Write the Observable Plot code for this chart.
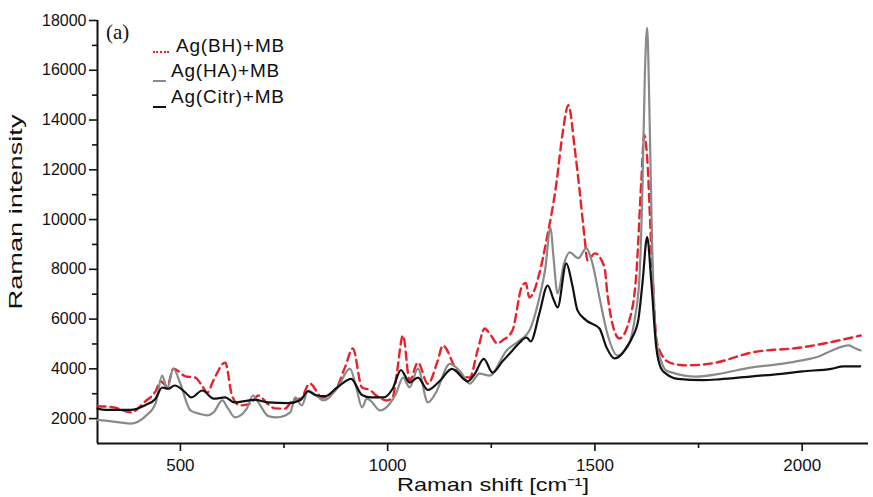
<!DOCTYPE html>
<html>
<head>
<meta charset="utf-8">
<script src="https://cdn.jsdelivr.net/npm/d3@7"></script>
<script src="https://cdn.jsdelivr.net/npm/@observablehq/plot@0.6"></script>
<style>
  body { margin: 0; background: #fff; }
  #wrap { position: relative; width: 873px; height: 497px; font-family: "Liberation Sans", Arial, sans-serif; }
  .leg { position: absolute; font-size: 19px; color: #111; letter-spacing: 0.8px; white-space: nowrap; }
  .sw { position: absolute; }
  #tag { position: absolute; left: 106px; top: 20px; font-family: "Liberation Serif", "Times New Roman", serif; font-size: 21px; color: #111; }
</style>
</head>
<body>
<div id="wrap"></div>
<script>
// ---- data ----
const seriesNames = ["Ag(BH)+MB", "Ag(HA)+MB", "Ag(Citr)+MB"];

const bhShift = [300,340,380,416,440,452,468,483,512,536,553,565,580,608,625,644,668,688,710,728,752,772,790,812,842,873,897,916,938,957,975,998,1012,1022,1037,1053,1073,1097,1121,1133,1167,1198,1217,1234,1246,1265,1277,1301,1323,1333,1342,1366,1383,1407,1422,1436,1451,1463,1475,1482,1500,1523,1530,1542,1559,1583,1600,1612,1619,1626,1636,1650,1679,1720,1783,1879,1999,2088,2141];
const bhIntensity = [2500,2450,2250,2700,3100,3500,3300,4010,3700,3650,3300,3050,3550,4250,2900,2530,2600,2930,2600,2410,2400,2750,2800,3410,2850,3130,4060,4820,3250,3150,2900,2730,2850,3810,5340,3530,4250,3400,4340,4940,3930,3650,4740,5620,5420,5020,5140,5540,7270,7450,6870,7830,9160,11450,13460,14600,12900,11170,9280,8360,8640,8080,7030,5820,5220,5950,7830,11570,13400,12500,8880,5020,4260,4140,4220,4660,4860,5140,5340];

const haShift = [300,330,380,416,440,456,468,483,500,524,545,565,580,601,615,632,660,675,690,712,733,765,777,793,808,830,844,878,909,925,938,950,960,981,1005,1020,1037,1053,1073,1097,1115,1150,1175,1198,1222,1246,1287,1318,1342,1366,1380,1393,1400,1410,1425,1439,1460,1479,1494,1511,1528,1554,1570,1583,1596,1607,1615,1620,1626,1632,1638,1648,1660,1672,1686,1744,1800,1879,1950,1999,2040,2072,2112,2125,2141];
const haIntensity = [1950,1900,1800,2100,2600,3730,3200,4010,3400,2330,2200,2130,2250,2730,2400,2050,2400,2930,2600,2100,2050,2250,2850,2530,3130,2900,2730,3210,4010,3200,2450,2800,2700,2330,2600,3000,3650,3250,4010,2650,3000,4200,3900,3410,3810,3730,4740,5140,5540,6870,8000,9680,8500,7030,8200,8680,8450,8840,8240,6870,5540,4540,4700,5020,6000,7550,11500,15500,17700,14000,9000,5140,4300,3930,3850,3690,3800,4060,4200,4340,4500,4740,4940,4850,4740];

const citrShift = [300,320,380,416,440,456,471,486,512,526,553,580,608,630,680,712,760,790,808,825,849,878,912,938,960,990,1012,1032,1053,1073,1097,1125,1155,1193,1210,1232,1253,1277,1301,1318,1335,1345,1366,1386,1400,1410,1431,1445,1458,1479,1511,1528,1547,1565,1576,1590,1605,1615,1626,1636,1648,1660,1672,1700,1760,1800,1880,1950,2000,2070,2100,2140];
const citrIntensity = [2400,2350,2350,2550,2800,3250,3200,3330,3050,2850,3130,2800,2850,2650,2750,2650,2620,2750,3100,2950,2900,3250,3600,2950,2850,2850,3200,3950,3450,3650,3150,3500,4000,3500,3800,4400,3850,4300,4740,5050,5260,5100,6230,7350,6800,6470,8240,7400,6350,5950,5620,4860,4420,4600,4860,5260,6000,7500,9300,7500,4860,4000,3800,3600,3550,3580,3700,3800,3900,4000,4100,4100];

const yMajorTicks = [2000,4000,6000,8000,10000,12000,14000,16000,18000];
const yMinorTicks = [3000,5000,7000,9000,11000,13000,15000,17000];
const xMajorTicks = [500,1000,1500,2000];
const xMinorTicks = [750,1250,1750];

const colors = { bh: "#e8212b", ha: "#8a8a8a", citr: "#111111" };

const toRows = (xs, ys) => xs.map((x, i) => ({ shift: x, intensity: ys[i] }));
const bh = toRows(bhShift, bhIntensity);
const ha = toRows(haShift, haIntensity);
const citr = toRows(citrShift, citrIntensity);

const chart = Plot.plot({
  width: 873,
  height: 497,
  marginLeft: 97,
  marginTop: 20,
  marginBottom: 54,
  marginRight: 5,
  x: { domain: [300, 2160] },
  y: { domain: [1000, 18000] },
  style: { fontFamily: "'Liberation Sans', Arial, sans-serif", fontSize: "16px", color: "#111", background: "#fff" },
  marks: [
    Plot.axisY({ ticks: yMajorTicks, tickSize: 8, tickPadding: 3, tickFormat: d => String(d), fontSize: 16, strokeWidth: 1.6,
                 label: "Raman intensity", labelAnchor: "center", labelArrow: "none", labelOffset: 89 }),
    Plot.axisY({ ticks: yMinorTicks, tickSize: 5, text: null, label: null, strokeWidth: 1.6 }),
    Plot.axisX({ ticks: xMajorTicks, tickSize: 8, tickPadding: 7, tickFormat: d => String(d), fontSize: 17, strokeWidth: 1.6,
                 label: "Raman shift [cm\u207B\u00B9]", labelAnchor: "center", labelArrow: "none", labelOffset: 47 }),
    Plot.axisX({ ticks: xMinorTicks, tickSize: 5, text: null, label: null, strokeWidth: 1.6 }),
    Plot.ruleX([300], { stroke: "#111", strokeWidth: 2 }),
    Plot.ruleY([1000], { stroke: "#111", strokeWidth: 2 }),
    Plot.line(bh, { x: "shift", y: "intensity", stroke: colors.bh, strokeWidth: 2.4, strokeDasharray: "8,5", curve: "monotone-x" }),
    Plot.line(ha, { x: "shift", y: "intensity", stroke: colors.ha, strokeWidth: 2.2, curve: "monotone-x" }),
    Plot.line(citr, { x: "shift", y: "intensity", stroke: colors.citr, strokeWidth: 2.2, curve: "monotone-x" })
  ]
});

const wrap = document.getElementById("wrap");
wrap.appendChild(chart);

// stretch axis titles like the reference
const yl = chart.querySelector("g[aria-label='y-axis label'] text");
if (yl) {
  yl.style.fontSize = "19px"; yl.style.fill = "#111";
  yl.setAttribute("textLength", "195"); yl.setAttribute("lengthAdjust", "spacingAndGlyphs");
  yl.setAttribute("dx", "20");
}
const xl = chart.querySelector("g[aria-label='x-axis label'] text");
if (xl) {
  xl.style.fontSize = "19px"; xl.style.fill = "#111";
  xl.setAttribute("textLength", "192"); xl.setAttribute("lengthAdjust", "spacingAndGlyphs");
  xl.setAttribute("dx", "10");
}

// legend / annotation overlay
const tag = document.createElement("div");
tag.id = "tag"; tag.textContent = "(a)";
wrap.appendChild(tag);

const legendRows = [
  { name: seriesNames[0], color: colors.bh, top: 35 },
  { name: seriesNames[1], color: colors.ha, top: 60 },
  { name: seriesNames[2], color: colors.citr, top: 86 }
];
legendRows.forEach((r, i) => {
  const t = document.createElement("div");
  t.className = "leg";
  t.textContent = r.name;
  t.style.left = (i === 0 ? 176 : 171) + "px";
  t.style.top = r.top + "px";
  wrap.appendChild(t);
  const s = document.createElement("div");
  s.className = "sw";
  s.style.left = "153px";
  s.style.width = (i === 0 ? 16 : 13) + "px";
  s.style.top = (r.top + (i === 0 ? 16 : 20)) + "px";
  s.style.borderTop = (i === 0 ? "2px dotted " : "2px solid ") + r.color;
  wrap.appendChild(s);
});
</script>
</body>
</html>
